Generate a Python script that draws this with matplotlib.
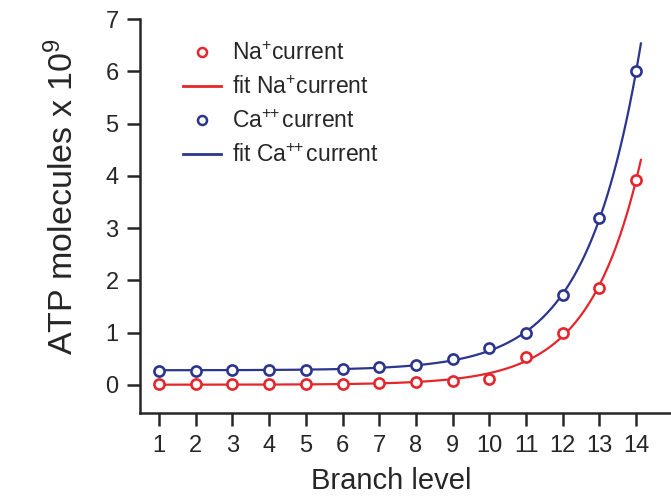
import numpy as np
import matplotlib
matplotlib.use("Agg")
import matplotlib.pyplot as plt
from matplotlib.lines import Line2D

plt.rcParams['font.family'] = ['Liberation Sans', 'DejaVu Sans']
plt.rcParams['mathtext.fontset'] = 'custom'
plt.rcParams['mathtext.rm'] = 'Liberation Sans'
plt.rcParams['mathtext.it'] = 'Liberation Sans'

levels = np.arange(1, 15)
na_values = [0.02, 0.02, 0.02, 0.02, 0.02, 0.02, 0.03, 0.05, 0.07, 0.12, 0.53, 1.00, 1.86, 3.93]
ca_values = [0.26, 0.27, 0.28, 0.29, 0.29, 0.31, 0.34, 0.38, 0.49, 0.70, 0.99, 1.72, 3.19, 6.00]
xticks = list(range(1, 15))
yticks = list(range(0, 8))

RED = '#e4262d'
BLUE = '#2c358e'
INK = '#262626'


def exp_fit(x, y):
    x = np.asarray(x, float)
    y = np.asarray(y, float)
    best = None
    for c in np.linspace(0.05, 1.5, 2901):
        A = np.column_stack([np.ones_like(x), np.exp(c * x)])
        coef, *_ = np.linalg.lstsq(A, y, rcond=None)
        r = np.sum((A @ coef - y) ** 2)
        if best is None or r < best[0]:
            best = (r, coef[0], coef[1], c)
    _, a, b, c = best
    return lambda t: a + b * np.exp(c * t)


fig = plt.figure(figsize=(6.71, 4.99), dpi=100)
ax = fig.add_axes([140 / 671, 86.3 / 499, 1 - 140 / 671, (480 - 86.3) / 499])

xs = np.linspace(1, 14.13, 300)
f_na = exp_fit(levels, na_values)
f_ca = exp_fit(levels, ca_values)

ax.plot(xs, f_na(xs), color=RED, lw=1.6, zorder=2)
ax.plot(xs, f_ca(xs), color=BLUE, lw=1.6, zorder=2)
ax.plot(levels, na_values, 'o', ms=7.3, mfc='white', mec=RED, mew=1.9, zorder=3)
ax.plot(levels, ca_values, 'o', ms=7.3, mfc='white', mec=BLUE, mew=1.9, zorder=3)

ax.set_xlim(0.48, 14.95)
ax.set_ylim(-0.53, 7.0)
ax.set_xticks(xticks)
ax.set_yticks(yticks)
for s in ['top', 'right']:
    ax.spines[s].set_visible(False)
for s in ['left', 'bottom']:
    ax.spines[s].set_linewidth(1.8)
    ax.spines[s].set_color(INK)
ax.tick_params(axis='both', length=9.4, width=1.8, color=INK,
               labelsize=17, labelcolor=INK)
ax.tick_params(axis='x', pad=7)
ax.tick_params(axis='y', pad=6)

ax.set_xlabel('Branch level', fontsize=21, color=INK)
ax.xaxis.set_label_coords(0.473, -0.137)
ax.set_ylabel(r'ATP molecules x 10$^{9}$', fontsize=24.5, color=INK)
ax.yaxis.set_label_coords(-0.113, 0.548)

handles = [
    Line2D([], [], ls='none', marker='o', ms=6.5, mfc='white', mec=RED, mew=1.8),
    Line2D([], [], color=RED, lw=2.0),
    Line2D([], [], ls='none', marker='o', ms=6.5, mfc='white', mec=BLUE, mew=1.8),
    Line2D([], [], color=BLUE, lw=2.0),
]
labels = [r'Na$^{+}$current', r'fit Na$^{+}$current',
          r'Ca$^{+\!\!+}$current', r'fit Ca$^{+\!\!+}$current']
leg = ax.legend(handles, labels, loc='upper left', bbox_to_anchor=(0.064, 0.965),
                frameon=False, fontsize=16.5, handlelength=1.65, handletextpad=0.5,
                labelspacing=0.48, borderaxespad=0)
for t in leg.get_texts():
    t.set_color(INK)

fig.savefig('out.png', dpi=100)
